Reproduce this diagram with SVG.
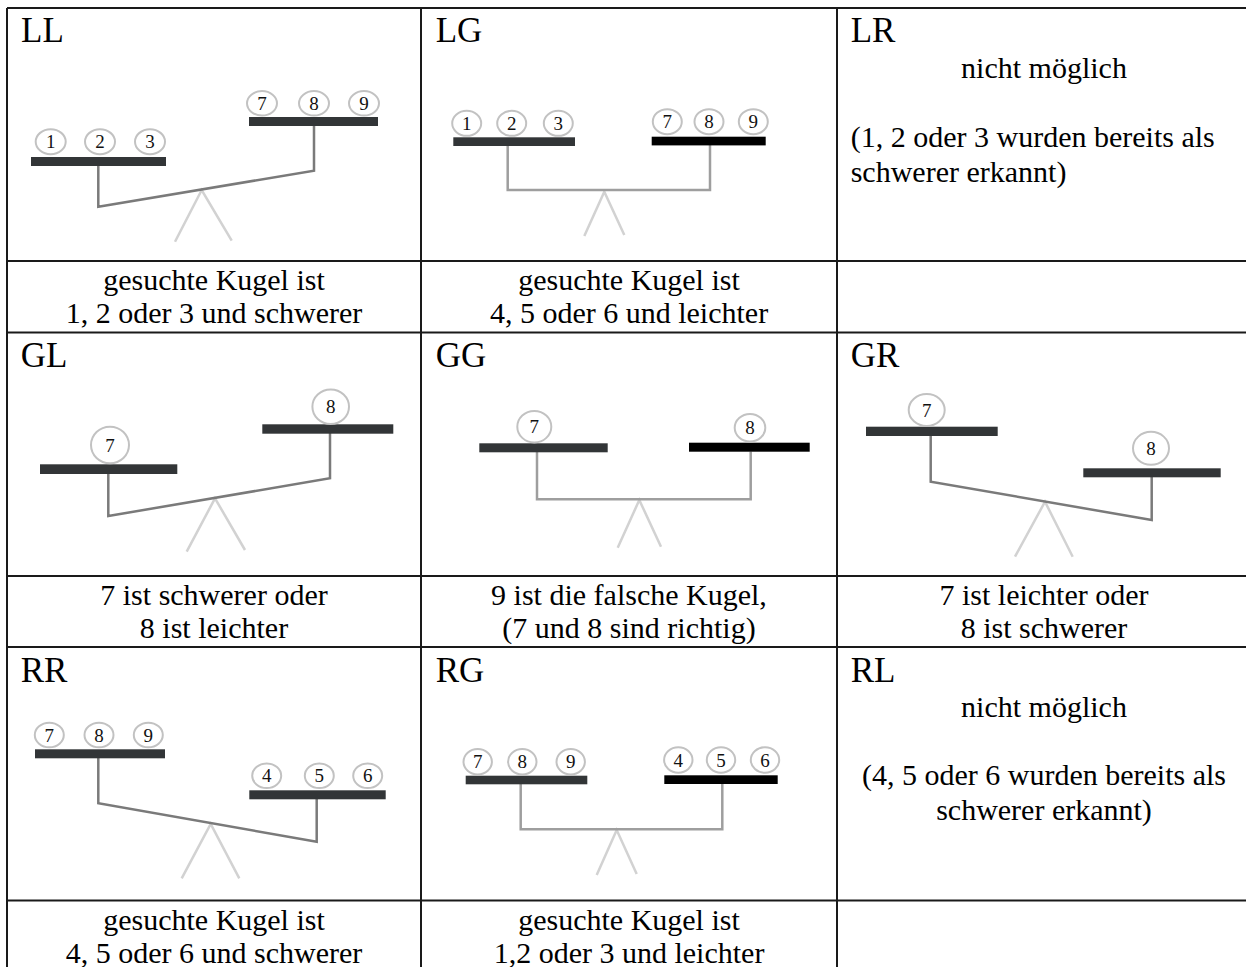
<svg xmlns="http://www.w3.org/2000/svg" width="1246" height="967" viewBox="0 0 1246 967">
  <style>
    .grid { stroke: #1a1a1a; stroke-width: 2; fill: none; }
    .lbl { font-family: "Liberation Serif", "Times New Roman", serif; font-size: 35px; fill: #000; }
    .txt { font-family: "Liberation Serif", "Times New Roman", serif; font-size: 30px; fill: #000; }
    .mid { text-anchor: middle; }
    .ball { fill: #fff; stroke: #c2c2c2; stroke-width: 2; }
    .num { font-family: "Liberation Serif", "Times New Roman", serif; font-size: 19px; fill: #111; text-anchor: middle; }
    .pan { fill: #323537; }
    .pan-k { fill: #000; }
    .arm { stroke: #7a7a7a; stroke-width: 2.5; fill: none; stroke-linejoin: miter; }
    .arm-l { stroke: #9e9e9e; stroke-width: 2.5; fill: none; }
    .stand { stroke: #d2d2d2; stroke-width: 2.5; fill: none; }
  </style>

  <rect width="1246" height="967" fill="#fff"/>

  <!-- table rules -->
  <g id="table">
    <line class="grid" x1="7" y1="8" x2="1252" y2="8"/>
    <line class="grid" x1="7" y1="261" x2="1252" y2="261"/>
    <line class="grid" x1="7" y1="332.5" x2="1252" y2="332.5"/>
    <line class="grid" x1="7" y1="576" x2="1252" y2="576"/>
    <line class="grid" x1="7" y1="647" x2="1252" y2="647"/>
    <line class="grid" x1="7" y1="900.5" x2="1252" y2="900.5"/>
    <line class="grid" x1="7" y1="8" x2="7" y2="970"/>
    <line class="grid" x1="421" y1="8" x2="421" y2="970"/>
    <line class="grid" x1="837" y1="8" x2="837" y2="970"/>
  </g>

  <!-- LL: left pan down -->
  <g id="cell-LL">
    <text class="lbl" x="21" y="42">LL</text>
    <path class="stand" d="M175,241.7 L201.7,190 L231.7,240.7"/>
    <path class="arm" d="M98.3,165 V206.7 L314,170.7 V125"/>
    <rect class="pan" x="31" y="157" width="135" height="9"/>
    <rect class="pan" x="249" y="117" width="129" height="9"/>
    <ellipse class="ball" cx="50.7" cy="141.7" rx="15" ry="12.5"/>
    <ellipse class="ball" cx="100" cy="141.7" rx="15" ry="12.5"/>
    <ellipse class="ball" cx="150" cy="141.7" rx="15" ry="12.5"/>
    <text class="num" x="50.7" y="148.2">1</text>
    <text class="num" x="100" y="148.2">2</text>
    <text class="num" x="150" y="148.2">3</text>
    <ellipse class="ball" cx="262" cy="103.3" rx="15" ry="12.2"/>
    <ellipse class="ball" cx="314" cy="103.3" rx="15" ry="12.2"/>
    <ellipse class="ball" cx="364" cy="103.3" rx="15" ry="12.2"/>
    <text class="num" x="262" y="109.8">7</text>
    <text class="num" x="314" y="109.8">8</text>
    <text class="num" x="364" y="109.8">9</text>
  </g>

  <!-- LG: balanced -->
  <g id="cell-LG">
    <text class="lbl" x="435.7" y="42">LG</text>
    <path class="stand" d="M584.3,236 L604.3,191.7 L624.3,235"/>
    <path class="arm-l" d="M507.7,146 V190 H710 V145"/>
    <rect class="pan" x="453.3" y="137.3" width="121.7" height="8.7"/>
    <rect class="pan-k" x="651.7" y="136.7" width="114" height="8.7"/>
    <ellipse class="ball" cx="466.7" cy="123.3" rx="14.5" ry="12.5"/>
    <ellipse class="ball" cx="511.7" cy="123.3" rx="14.5" ry="12.5"/>
    <ellipse class="ball" cx="558.3" cy="123.3" rx="14.5" ry="12.5"/>
    <text class="num" x="466.7" y="129.8">1</text>
    <text class="num" x="511.7" y="129.8">2</text>
    <text class="num" x="558.3" y="129.8">3</text>
    <ellipse class="ball" cx="667.3" cy="121.7" rx="14.5" ry="12.5"/>
    <ellipse class="ball" cx="709" cy="121.7" rx="14.5" ry="12.5"/>
    <ellipse class="ball" cx="753.3" cy="121.7" rx="14.5" ry="12.5"/>
    <text class="num" x="667.3" y="128.2">7</text>
    <text class="num" x="709" y="128.2">8</text>
    <text class="num" x="753.3" y="128.2">9</text>
  </g>

  <!-- LR: impossible -->
  <g id="cell-LR">
    <text class="lbl" x="850.7" y="42">LR</text>
    <text class="txt mid" x="1044" y="78">nicht möglich</text>
    <text class="txt" x="850.7" y="147">(1, 2 oder 3 wurden bereits als</text>
    <text class="txt" x="850.7" y="182">schwerer erkannt)</text>
  </g>

  <!-- first result row -->
  <g id="result-LL">
    <text class="txt mid" x="214" y="290">gesuchte Kugel ist</text>
    <text class="txt mid" x="214" y="323.3">1, 2 oder 3 und schwerer</text>
  </g>
  <g id="result-LG">
    <text class="txt mid" x="629" y="290">gesuchte Kugel ist</text>
    <text class="txt mid" x="629" y="323.3">4, 5 oder 6 und leichter</text>
  </g>

  <!-- GL -->
  <g id="cell-GL">
    <text class="lbl" x="20.7" y="366.7">GL</text>
    <path class="stand" d="M186.7,551.7 L215,498.3 L245,550"/>
    <path class="arm" d="M108.3,474 V516 L330,478.3 V433"/>
    <rect class="pan" x="40" y="464.3" width="137.3" height="9.7"/>
    <rect class="pan" x="262.3" y="424.3" width="131" height="9.4"/>
    <ellipse class="ball" cx="110" cy="445" rx="19" ry="18.3"/>
    <text class="num" x="110" y="451.5">7</text>
    <ellipse class="ball" cx="330.7" cy="406.7" rx="18.3" ry="17.3"/>
    <text class="num" x="330.7" y="413.2">8</text>
  </g>

  <!-- GG -->
  <g id="cell-GG">
    <text class="lbl" x="435.7" y="366.7">GG</text>
    <path class="stand" d="M617.7,547.7 L639.3,500 L661,546.7"/>
    <path class="arm-l" d="M537,452 V499.3 H750.7 V451.5"/>
    <rect class="pan" x="479.3" y="443.3" width="128.4" height="9"/>
    <rect class="pan-k" x="689" y="442.7" width="120.7" height="9"/>
    <ellipse class="ball" cx="534.3" cy="426.7" rx="17" ry="15.8"/>
    <text class="num" x="534.3" y="433.2">7</text>
    <ellipse class="ball" cx="750" cy="427.7" rx="15.3" ry="13.8"/>
    <text class="num" x="750" y="434.2">8</text>
  </g>

  <!-- GR -->
  <g id="cell-GR">
    <text class="lbl" x="850.7" y="366.7">GR</text>
    <path class="stand" d="M1015,556.7 L1045,501.7 L1072.7,556.7"/>
    <path class="arm" d="M930.7,436 V481.7 L1151.7,520 V477"/>
    <rect class="pan" x="866" y="426.7" width="131.7" height="9.3"/>
    <rect class="pan" x="1083.3" y="468.3" width="137.4" height="9"/>
    <ellipse class="ball" cx="926.7" cy="410" rx="18" ry="16"/>
    <text class="num" x="926.7" y="416.5">7</text>
    <ellipse class="ball" cx="1151" cy="448.3" rx="18" ry="16.5"/>
    <text class="num" x="1151" y="454.8">8</text>
  </g>

  <!-- second result row -->
  <g id="result-GL">
    <text class="txt mid" x="214" y="605">7 ist schwerer oder</text>
    <text class="txt mid" x="214" y="638.3">8 ist leichter</text>
  </g>
  <g id="result-GG">
    <text class="txt mid" x="629" y="605">9 ist die falsche Kugel,</text>
    <text class="txt mid" x="629" y="638.3">(7 und 8 sind richtig)</text>
  </g>
  <g id="result-GR">
    <text class="txt mid" x="1044" y="605">7 ist leichter oder</text>
    <text class="txt mid" x="1044" y="638.3">8 ist schwerer</text>
  </g>

  <!-- RR -->
  <g id="cell-RR">
    <text class="lbl" x="20.7" y="681.7">RR</text>
    <path class="stand" d="M181.7,878.3 L210.7,824 L239.3,878.3"/>
    <path class="arm" d="M98.3,758 V803.3 L316.7,841.7 V799"/>
    <rect class="pan" x="35" y="749.3" width="130" height="9"/>
    <rect class="pan" x="249.3" y="790.3" width="136.4" height="9"/>
    <ellipse class="ball" cx="49.3" cy="735" rx="14.5" ry="12.3"/>
    <ellipse class="ball" cx="99" cy="735" rx="14.5" ry="12.3"/>
    <ellipse class="ball" cx="148.3" cy="735" rx="14.5" ry="12.3"/>
    <text class="num" x="49.3" y="741.5">7</text>
    <text class="num" x="99" y="741.5">8</text>
    <text class="num" x="148.3" y="741.5">9</text>
    <ellipse class="ball" cx="266.7" cy="775.7" rx="14.5" ry="12.3"/>
    <ellipse class="ball" cx="319.3" cy="775.7" rx="14.5" ry="12.3"/>
    <ellipse class="ball" cx="367.7" cy="775.7" rx="14.5" ry="12.3"/>
    <text class="num" x="266.7" y="782.2">4</text>
    <text class="num" x="319.3" y="782.2">5</text>
    <text class="num" x="367.7" y="782.2">6</text>
  </g>

  <!-- RG -->
  <g id="cell-RG">
    <text class="lbl" x="435.7" y="681.7">RG</text>
    <path class="stand" d="M596.7,875 L616.7,830 L636.7,874"/>
    <path class="arm-l" d="M520.7,784 V829.3 H722.3 V784"/>
    <rect class="pan" x="465.7" y="775.7" width="121.6" height="8.6"/>
    <rect class="pan-k" x="664.3" y="775.3" width="113.4" height="8.7"/>
    <ellipse class="ball" cx="477.7" cy="761.7" rx="14.2" ry="12.8"/>
    <ellipse class="ball" cx="522.3" cy="761.7" rx="14.2" ry="12.8"/>
    <ellipse class="ball" cx="570.7" cy="761.7" rx="14.2" ry="12.8"/>
    <text class="num" x="477.7" y="768.2">7</text>
    <text class="num" x="522.3" y="768.2">8</text>
    <text class="num" x="570.7" y="768.2">9</text>
    <ellipse class="ball" cx="678.3" cy="760" rx="14.2" ry="12.8"/>
    <ellipse class="ball" cx="721" cy="760" rx="14.2" ry="12.8"/>
    <ellipse class="ball" cx="765" cy="760" rx="14.2" ry="12.8"/>
    <text class="num" x="678.3" y="766.5">4</text>
    <text class="num" x="721" y="766.5">5</text>
    <text class="num" x="765" y="766.5">6</text>
  </g>

  <!-- RL: impossible -->
  <g id="cell-RL">
    <text class="lbl" x="850.7" y="681.7">RL</text>
    <text class="txt mid" x="1044" y="716.7">nicht möglich</text>
    <text class="txt mid" x="1044" y="785">(4, 5 oder 6 wurden bereits als</text>
    <text class="txt mid" x="1044" y="820">schwerer erkannt)</text>
  </g>

  <!-- third result row -->
  <g id="result-RR">
    <text class="txt mid" x="214" y="930">gesuchte Kugel ist</text>
    <text class="txt mid" x="214" y="963.3">4, 5 oder 6 und schwerer</text>
  </g>
  <g id="result-RG">
    <text class="txt mid" x="629" y="930">gesuchte Kugel ist</text>
    <text class="txt mid" x="629" y="963.3">1,2 oder 3 und leichter</text>
  </g>
</svg>
